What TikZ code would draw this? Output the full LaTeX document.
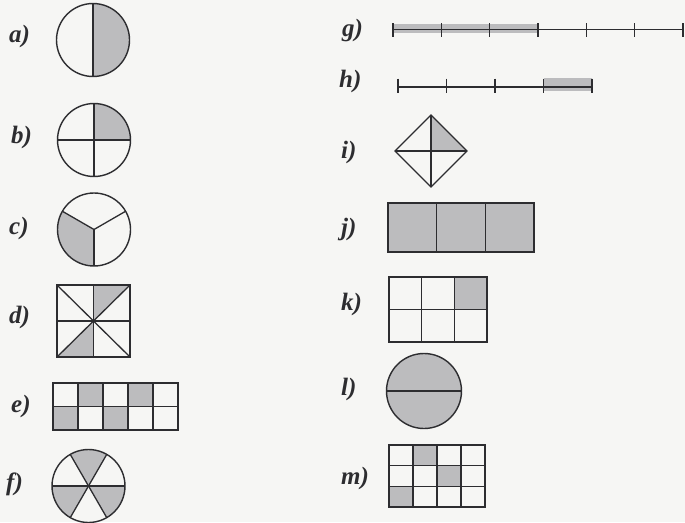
\documentclass[tikz,border=0pt]{standalone}
\usepackage{fontspec}
\setmainfont{Liberation Serif}
\usepackage{tikz}
\usetikzlibrary{positioning,calc,backgrounds,shapes.geometric}
\definecolor{pagebg}{RGB}{246,246,244}
\definecolor{ink}{RGB}{45,45,48}
\definecolor{tint}{RGB}{188,188,190}

\begin{document}
\begin{tikzpicture}[
  x=1pt, y=1pt,
  font=\fontsize{25}{25}\selectfont\bfseries\itshape,
  lbl/.style  = {anchor=base west, inner sep=0pt, text=ink},
  fig/.style  = {draw=ink, line width=1.4pt, inner sep=0pt, outer sep=0pt},
  disc/.style = {fig, circle, minimum size=73pt},
  frame/.style= {fig, rectangle},
  part/.style = {draw=ink, line width=1.3pt},
  sh/.style   = {fill=tint},
]
\useasboundingbox (0,0) rectangle (685,-522);
\begin{scope}[on background layer]
  \fill[pagebg] (0,0) rectangle (685,-522);
\end{scope}

% ----------------------------- labels -------------------------------------
\foreach \t/\x/\y in {a/9/42, b/11/143, c/9/234, d/9/323, e/11/412, f/6/490,
                      g/342/36, h/339/87, i/341/158, j/341/235, k/341/310,
                      l/341/395, m/341/484}
  \node[lbl] (l\t) at (\x,-\y) {\t)};

% ----------------------------- a) b) c) -----------------------------------
\node[disc] (ca) at (93,-40) {};
\node[disc] (cb) at (94,-140) {};
\node[disc] (cc) at (94,-229.5) {};
\begin{scope}[on background layer]
  \fill[sh] (ca.center) -- (ca.north) arc[start angle=90, end angle=-90, radius=36.5pt] -- cycle;
  \fill[sh] (cb.center) -- (cb.north) arc[start angle=90, end angle=0, radius=36.5pt] -- cycle;
  \fill[sh] (cc.center) -- (cc.150) arc[start angle=150, end angle=270, radius=36.5pt] -- cycle;
\end{scope}
\draw[part] (ca.north) -- (ca.south);
\draw[part] (cb.north) -- (cb.south);
\draw[part] (cb.west) -- (cb.east);
\foreach \a in {30,150,270}
  \draw[part] (cc.center) -- (cc.\a);

% ----------------------------- d) -----------------------------------------
\node[frame, minimum width=73pt, minimum height=72pt] (sqd) at (93.5,-321) {};
\begin{scope}[on background layer]
  \fill[sh] (sqd.center) -- (sqd.north) -- (sqd.north east) -- cycle;
  \fill[sh] (sqd.center) -- (sqd.south west) -- (sqd.south) -- cycle;
\end{scope}
\draw[part] (sqd.north) -- (sqd.south);
\draw[part] (sqd.west) -- (sqd.east);
\draw[part] (sqd.north west) -- (sqd.south east);
\draw[part] (sqd.north east) -- (sqd.south west);

% ----------------------------- e) -----------------------------------------
\node[frame, minimum width=125pt, minimum height=47pt] (gre) at (115.5,-406.5) {};
\begin{scope}[on background layer]
  \foreach \c/\r in {1/0, 3/0, 0/1, 2/1}
    \fill[sh] ($(gre.north west)+(\c*25,-\r*23.5)$) rectangle ++(25,-23.5);
\end{scope}
\foreach \i in {1,...,4}
  \draw[part] ($(gre.north west)+(\i*25,0)$) -- ($(gre.south west)+(\i*25,0)$);
\draw[part] (gre.west) -- (gre.east);

% ----------------------------- f) -----------------------------------------
\node[disc] (cf) at (88.5,-486) {};
\begin{scope}[on background layer]
  \foreach \a in {60,180,300}
    \fill[sh] (cf.center) -- (cf.\a) arc[start angle=\a, delta angle=60, radius=36.5pt] -- cycle;
\end{scope}
\foreach \a/\b in {0/180, 60/240, 120/300}
  \draw[part] (cf.\a) -- (cf.\b);

% ----------------------------- g) h) number lines -------------------------
\coordinate (g0) at (393,-29.5);
\coordinate (g6) at (683,-29.5);
\fill[sh] ($(g0)+(0,5.5)$) rectangle ($(g0)+(145,-3.5)$);
\draw[part] (g0) -- (g6);
\foreach \i in {0,...,6}
  \draw[part] ($(g0)+(\i*48.33,6.5)$) -- ++(0,-14);

\coordinate (h0) at (398,-87);
\coordinate (h4) at (592,-87);
\fill[sh] ($(h0)+(145.5,9.5)$) rectangle ($(h4)+(0,-4)$);
\draw[part] (h0) -- (h4);
\foreach \i in {0,...,4}
  \draw[part] ($(h0)+(\i*48.5,8.5)$) -- ++(0,-14);

% ----------------------------- i) -----------------------------------------
\node[fig, diamond, minimum width=72pt, minimum height=72pt] (dmi) at (431,-151) {};
\begin{scope}[on background layer]
  \fill[sh] (dmi.center) -- (dmi.north) -- (dmi.east) -- cycle;
\end{scope}
\draw[part] (dmi.north) -- (dmi.south);
\draw[part] (dmi.west) -- (dmi.east);

% ----------------------------- j) k) --------------------------------------
\node[frame, sh, minimum width=146pt, minimum height=49pt] (rj) at (461,-227.5) {};
\foreach \i in {1,2}
  \draw[part] ($(rj.north west)+(\i*48.67,0)$) -- ($(rj.south west)+(\i*48.67,0)$);

\node[frame, minimum width=98pt, minimum height=65pt] (rk) at (438,-309.5) {};
\begin{scope}[on background layer]
  \fill[sh] ($(rk.north east)+(-32.67,0)$) rectangle (rk.east);
\end{scope}
\foreach \i in {1,2}
  \draw[part] ($(rk.north west)+(\i*32.67,0)$) -- ($(rk.south west)+(\i*32.67,0)$);
\draw[part] (rk.west) -- (rk.east);

% ----------------------------- l) m) --------------------------------------
\node[disc, sh, minimum size=75pt] (cl) at (424,-391) {};
\draw[part] (cl.west) -- (cl.east);

\node[frame, minimum width=96pt, minimum height=62pt] (rm) at (437,-476) {};
\begin{scope}[on background layer]
  \foreach \c/\r in {1/0, 2/1, 0/2}
    \fill[sh] ($(rm.north west)+(\c*24,-\r*20.67)$) rectangle ++(24,-20.67);
\end{scope}
\foreach \i in {1,2,3}
  \draw[part] ($(rm.north west)+(\i*24,0)$) -- ($(rm.south west)+(\i*24,0)$);
\foreach \j in {1,2}
  \draw[part] ($(rm.north west)+(0,-\j*20.67)$) -- ($(rm.north east)+(0,-\j*20.67)$);

\end{tikzpicture}
\end{document}
